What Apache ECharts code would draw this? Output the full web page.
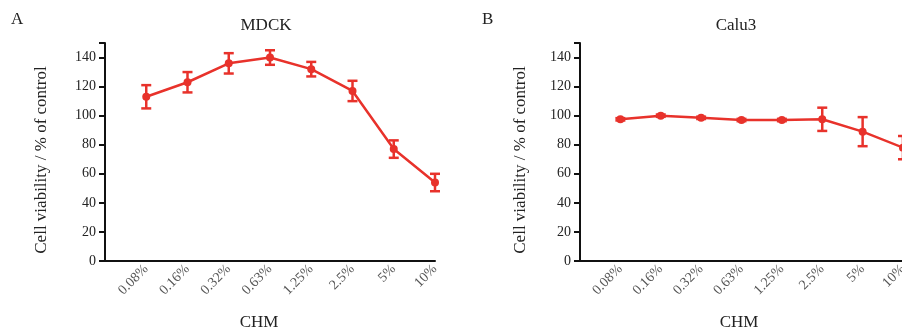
<!DOCTYPE html>
<html>
<head>
<meta charset="utf-8">
<script src="https://cdn.jsdelivr.net/npm/echarts@6/dist/echarts.min.js"></script>
<style>
html,body{margin:0;padding:0;background:#fff;}
#chart{width:902px;height:333px;}
</style>
</head>
<body>
<div id="chart"></div>
<script>
const categories = ['0.08%', '0.16%', '0.32%', '0.63%', '1.25%', '2.5%', '5%', '10%'];
const mdckMean = [113, 123, 136, 140, 132, 117, 77, 54];
const mdckErr = [8, 7, 7, 5, 5, 7, 6, 6];
const calu3Mean = [97.5, 100, 98.5, 97, 97, 97.5, 89, 78];
const calu3Err = [0.8, 0.8, 0.8, 0.8, 0.8, 8, 10, 8];
const yTicks = [0, 20, 40, 60, 80, 100, 120, 140];

const RED = '#e8322b';
const SERIF = '"Liberation Serif", "DejaVu Serif", serif';

const chart = echarts.init(document.getElementById('chart'), null, {renderer: 'canvas'});

function pts(mean) { return mean.map((v, i) => [i + 1, v]); }
function errs(mean, err) { return mean.map((v, i) => [i + 1, v - err[i], v + err[i]]); }

function errorRender(params, api) {
  const x = api.value(0);
  const lo = api.coord([x, api.value(1)]);
  const hi = api.coord([x, api.value(2)]);
  const hw = 5;
  const style = {stroke: RED, lineWidth: 2.5, fill: null};
  return {
    type: 'group',
    children: [
      {type: 'line', shape: {x1: lo[0], y1: lo[1], x2: hi[0], y2: hi[1]}, style: style},
      {type: 'line', shape: {x1: lo[0] - hw, y1: lo[1], x2: lo[0] + hw, y2: lo[1]}, style: style},
      {type: 'line', shape: {x1: hi[0] - hw, y1: hi[1], x2: hi[0] + hw, y2: hi[1]}, style: style}
    ]
  };
}

function xAxis(gi) {
  return {
    type: 'value', gridIndex: gi, min: 0, max: 8, interval: 1,
    axisLine: {show: true, lineStyle: {color: '#111', width: 2}},
    axisTick: {show: false},
    splitLine: {show: false},
    axisLabel: {
      rotate: 45, margin: 6, color: '#555', fontFamily: SERIF, fontSize: 14,
      showMinLabel: true, showMaxLabel: true,
      formatter: v => (v >= 1 && v <= categories.length) ? categories[v - 1] : ''
    }
  };
}
function yAxis(gi) {
  return {
    type: 'value', gridIndex: gi, min: 0, max: 150, interval: 20,
    axisLine: {show: true, lineStyle: {color: '#111', width: 2}},
    axisTick: {show: true, length: 6, lineStyle: {color: '#111', width: 2}},
    splitLine: {show: false},
    axisLabel: {
      color: '#222', fontFamily: SERIF, fontSize: 14, margin: 9,
      formatter: v => yTicks.indexOf(v) >= 0 ? String(v) : ''
    }
  };
}

const textStyle = {fontFamily: SERIF, fill: '#222'};

chart.setOption({
  animation: false,
  backgroundColor: '#fff',
  grid: [
    {left: 105, top: 43, width: 330, height: 218, containLabel: false, outerBoundsMode: 'none'},
    {left: 580, top: 43, width: 323, height: 218, containLabel: false, outerBoundsMode: 'none'}
  ],
  xAxis: [xAxis(0), xAxis(1)],
  yAxis: [yAxis(0), yAxis(1)],
  graphic: [
    {type: 'text', left: 11, top: 11, style: Object.assign({text: 'A', fontSize: 17}, textStyle)},
    {type: 'text', left: 482, top: 11, style: Object.assign({text: 'B', fontSize: 17}, textStyle)},
    {type: 'text', x: 266, y: 26, style: Object.assign({text: 'MDCK', fontSize: 17, align: 'center', verticalAlign: 'middle'}, textStyle)},
    {type: 'text', x: 736, y: 26, style: Object.assign({text: 'Calu3', fontSize: 17, align: 'center', verticalAlign: 'middle'}, textStyle)},
    {type: 'text', x: 259, y: 323, style: Object.assign({text: 'CHM', fontSize: 17, align: 'center', verticalAlign: 'middle'}, textStyle)},
    {type: 'text', x: 739, y: 323, style: Object.assign({text: 'CHM', fontSize: 17, align: 'center', verticalAlign: 'middle'}, textStyle)},
    {type: 'text', x: 42, y: 160, rotation: Math.PI / 2, style: Object.assign({text: 'Cell viability / % of control', fontSize: 17, align: 'center', verticalAlign: 'middle'}, textStyle)},
    {type: 'text', x: 521, y: 160, rotation: Math.PI / 2, style: Object.assign({text: 'Cell viability / % of control', fontSize: 17, align: 'center', verticalAlign: 'middle'}, textStyle)}
  ],
  series: [
    {type: 'custom', xAxisIndex: 0, yAxisIndex: 0, renderItem: errorRender, data: errs(mdckMean, mdckErr), z: 3},
    {type: 'line', xAxisIndex: 0, yAxisIndex: 0, data: pts(mdckMean), symbol: 'circle', symbolSize: 8,
      lineStyle: {color: RED, width: 2.5}, itemStyle: {color: RED}, z: 4},
    {type: 'custom', xAxisIndex: 1, yAxisIndex: 1, renderItem: errorRender, data: errs(calu3Mean, calu3Err), z: 3},
    {type: 'line', xAxisIndex: 1, yAxisIndex: 1, data: pts(calu3Mean), symbol: 'circle', symbolSize: 8,
      lineStyle: {color: RED, width: 2.5}, itemStyle: {color: RED}, z: 4}
  ]
});
</script>
</body>
</html>
